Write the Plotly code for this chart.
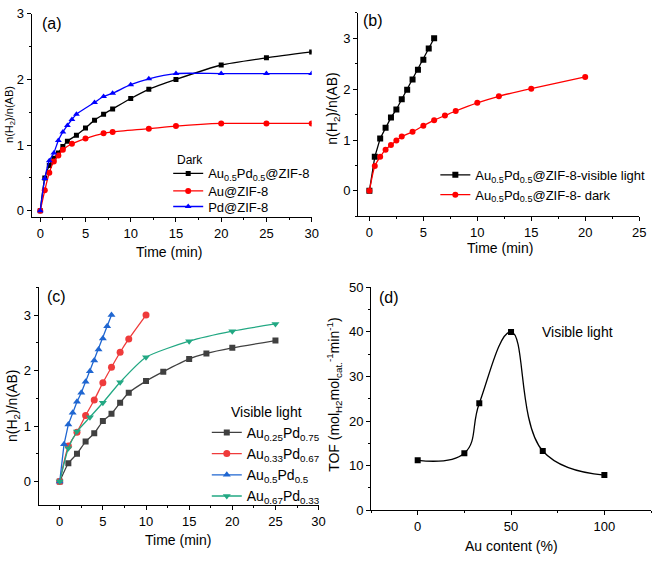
import plotly.graph_objects as go

# ---------------- data ----------------
# (a) dark
a_t_aupd = [0, 0.5, 1, 1.5, 2, 2.5, 3, 4, 5, 6, 7, 8, 10, 12, 15, 20, 25, 30]
a_y_aupd = [0, 0.5, 0.69, 0.8, 0.88, 0.98, 1.06, 1.15, 1.26, 1.38, 1.47, 1.55, 1.71, 1.85, 2.0, 2.22, 2.33, 2.42]
a_t_au = [0, 0.5, 1, 1.5, 2, 2.5, 3.5, 5, 7, 8, 12, 15, 20, 25, 30]
a_y_au = [0, 0.31, 0.58, 0.75, 0.84, 0.93, 1.02, 1.1, 1.18, 1.2, 1.25, 1.29, 1.33, 1.33, 1.33]
a_t_pd = [0, 0.5, 1, 1.5, 2, 2.5, 3, 3.5, 4, 6, 7, 8, 10, 12, 15, 20, 25, 30]
a_y_pd = [0, 0.49, 0.76, 0.88, 1.07, 1.2, 1.3, 1.39, 1.47, 1.65, 1.74, 1.79, 1.92, 2.01, 2.09, 2.09, 2.09, 2.09]

# (b) light vs dark
b_t_light = [0, 0.5, 1, 1.5, 2, 2.5, 3, 3.5, 4, 4.5, 5, 5.5, 6]
b_y_light = [0, 0.67, 1.03, 1.24, 1.44, 1.6, 1.8, 1.99, 2.19, 2.38, 2.58, 2.8, 3.0]
b_t_dark = [0, 0.5, 1, 1.5, 2, 2.5, 3, 4, 5, 6, 7, 8, 10, 12, 15, 20]
b_y_dark = [0, 0.49, 0.67, 0.81, 0.9, 0.99, 1.07, 1.16, 1.28, 1.39, 1.48, 1.57, 1.73, 1.86, 2.01, 2.24]

# (c) visible light, compositions
c_t_25 = [0, 1, 2, 3, 4, 5, 6, 7, 8, 10, 12, 15, 17, 20, 25]
c_y_25 = [0, 0.33, 0.5, 0.72, 0.87, 1.09, 1.22, 1.42, 1.6, 1.81, 1.98, 2.21, 2.31, 2.41, 2.54]
c_t_33 = [0, 1, 2, 3, 4, 5, 6, 7, 8, 10]
c_y_33 = [0, 0.64, 0.89, 1.19, 1.47, 1.78, 2.06, 2.33, 2.57, 3.0]
c_t_50 = [0, 0.5, 1, 1.5, 2, 2.5, 3, 3.5, 4, 4.5, 5, 5.5, 6]
c_y_50 = [0, 0.67, 1.03, 1.24, 1.44, 1.6, 1.8, 1.99, 2.18, 2.38, 2.58, 2.8, 3.0]
c_t_67 = [0, 1, 2, 3.5, 5, 7, 10, 15, 20, 25]
c_y_67 = [0, 0.6, 0.9, 1.16, 1.42, 1.79, 2.24, 2.53, 2.71, 2.84]

# (d) TOF vs Au content
d_au = [0, 25, 33, 50, 67, 100]
d_tof = [11.2, 12.8, 24, 40, 13.3, 7.9]

FONT = "Arial, Liberation Sans, sans-serif"
W, H = 661, 565

def px(x):
    return x / W

def py(y):
    return 1 - y / H

fig = go.Figure()

def add(x, y, color, symbol, name, xa, ya, legend, size=6, shape="spline", smooth=0.6, show=True):
    fig.add_trace(go.Scatter(
        x=x, y=y, mode="lines+markers", name=name,
        line=dict(color=color, width=1.3, shape=shape, smoothing=smooth),
        marker=dict(symbol=symbol, size=size, color=color),
        xaxis=xa, yaxis=ya, legend=legend, showlegend=show))

# (a)
add(a_t_aupd, a_y_aupd, "#000000", "square", "Au<sub>0.5</sub>Pd<sub>0.5</sub>@ZIF-8", "x", "y", "legend", size=5)
add(a_t_au, a_y_au, "#ff0000", "circle", "Au@ZIF-8", "x", "y", "legend2", size=6)
add(a_t_pd, a_y_pd, "#0000ff", "triangle-up", "Pd@ZIF-8", "x", "y", "legend3", size=6)

# (b)
add(b_t_light, b_y_light, "#000000", "square", "Au<sub>0.5</sub>Pd<sub>0.5</sub>@ZIF-8-visible light", "x2", "y2", "legend4", size=6, shape="linear")
add(b_t_dark, b_y_dark, "#ff0000", "circle", "Au<sub>0.5</sub>Pd<sub>0.5</sub>@ZIF-8- dark", "x2", "y2", "legend4", size=6)

# (c)
add(c_t_25, c_y_25, "#404040", "square", "Au<sub>0.25</sub>Pd<sub>0.75</sub>", "x3", "y3", "legend5", size=6)
add(c_t_33, c_y_33, "#ef3b3b", "circle", "Au<sub>0.33</sub>Pd<sub>0.67</sub>", "x3", "y3", "legend5", size=7)
add(c_t_50, c_y_50, "#1f66d1", "triangle-up", "Au<sub>0.5</sub>Pd<sub>0.5</sub>", "x3", "y3", "legend5", size=7, shape="linear")
add(c_t_67, c_y_67, "#22a883", "triangle-down", "Au<sub>0.67</sub>Pd<sub>0.33</sub>", "x3", "y3", "legend5", size=7)

# (d)
add(d_au, d_tof, "#000000", "square", "TOF", "x4", "y4", "legend", size=6, smooth=1.2, show=False)

def xax(domain, rng, dtick, minor, anchor):
    return dict(domain=domain, range=rng, anchor=anchor, dtick=dtick, tick0=0,
                showline=True, linecolor="black", linewidth=1, showgrid=False, zeroline=False,
                ticks="outside", ticklen=4, tickcolor="black",
                minor=dict(ticks="outside", ticklen=2, dtick=minor, tick0=0, tickcolor="black", showgrid=False),
                tickfont=dict(family=FONT, size=13, color="black"))

yax = xax

def leg(x, y, size, yanchor="middle"):
    return dict(x=px(x), y=py(y), xanchor="left", yanchor=yanchor,
                font=dict(size=size, family=FONT, color="black"),
                bgcolor="rgba(0,0,0,0)", itemwidth=30, tracegroupgap=0)

fig.update_layout(
    width=W, height=H, margin=dict(l=0, r=0, t=0, b=0),
    plot_bgcolor="white", paper_bgcolor="white",
    font=dict(family=FONT, color="black"),
    xaxis=xax([px(32), px(315)], [-0.95, 30], 5, 2.5, "y"),
    yaxis=yax([py(216), py(7)], [-0.1, 3.0], 1, 0.5, "x"),
    xaxis2=xax([px(362), px(646)], [-1.04, 25], 5, 2.5, "y2"),
    yaxis2=yax([py(215), py(6)], [-0.5, 3.5], 1, 0.5, "x2"),
    xaxis3=xax([px(39), px(322)], [-2.45, 30], 5, 2.5, "y3"),
    yaxis3=yax([py(512), py(288)], [-0.43, 3.5], 1, 0.5, "x3"),
    xaxis4=xax([px(375), px(658)], [-25, 125], 50, 25, "y4"),
    yaxis4=yax([py(517), py(288)], [0, 50], 10, 5, "x4"),
    legend=leg(170, 171, 13),
    legend2=leg(170, 189, 13),
    legend3=leg(170, 205, 13),
    legend4=leg(440, 157, 13, yanchor="top"),
    legend5=leg(209, 421, 14, yanchor="top"),
    showlegend=True,
)

ann = [
    ("(a)", px(40), py(17)),
    ("(b)", px(365), py(14)),
    ("(c)", px(45), py(297)),
    ("(d)", px(381), py(298)),
]
for t, x, y in ann:
    fig.add_annotation(text=t, x=x, y=y, xref="paper", yref="paper",
                       xanchor="left", yanchor="middle", showarrow=False,
                       font=dict(size=16, family=FONT, color="black"))

# axis titles and labels
titles = [
    ("Dark", px(177), py(157), 0, 12, "left"),
    ("Visible light", px(269), py(416), 0, 14, "center"),
    ("Time (min)", px(171), py(252), 0, 14, "center"),
    ("n(H<sub>2</sub>)/n(AB)", px(10), py(110), -90, 11, "center"),
    ("Time (min)", px(505), py(248), 0, 14, "center"),
    ("n(H<sub>2</sub>)/n(AB)", px(337), py(104), -90, 14, "center"),
    ("Time (min)", px(180), py(548), 0, 14, "center"),
    ("n(H<sub>2</sub>)/n(AB)", px(13), py(410), -90, 14, "center"),
    ("Au content (%)", px(517), py(554), 0, 14, "center"),
    ("TOF (mol<sub>H2</sub>mol<sub>cat.</sub><sup>-1</sup>min<sup>-1</sup>)", px(338), py(398), -90, 14, "center"),
    ("Visible light", px(584), py(334), 0, 14, "center"),
]
for t, x, y, ang, s, xa in titles:
    fig.add_annotation(text=t, x=x, y=y, xref="paper", yref="paper",
                       xanchor=xa, yanchor="middle", showarrow=False, textangle=ang,
                       font=dict(size=s, family=FONT, color="black"))

fig.write_html("out.html")
